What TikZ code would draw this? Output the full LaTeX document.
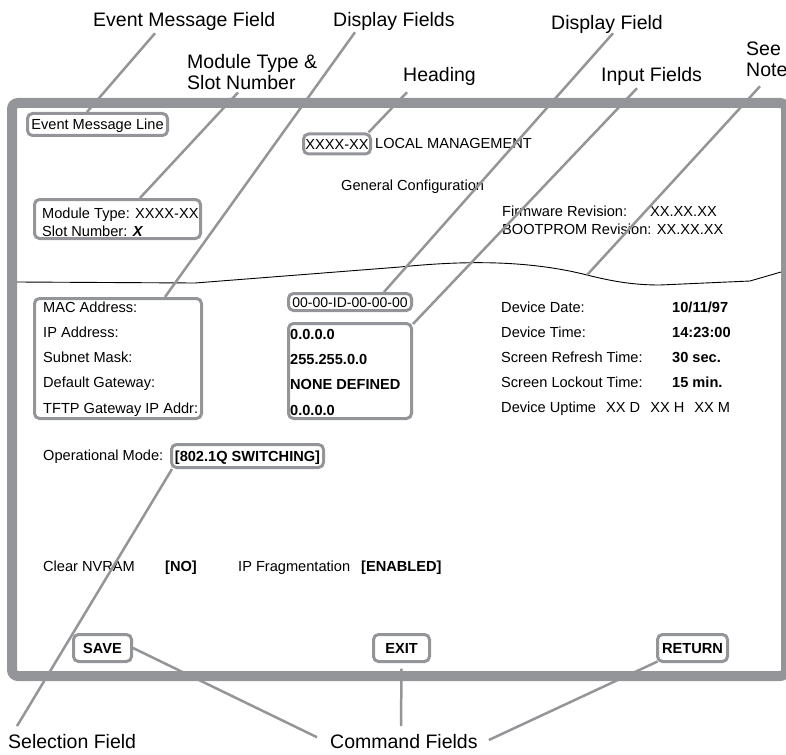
\documentclass[tikz,border=0pt]{standalone}
\usepackage{fontspec}
\setmainfont{Liberation Sans}
\usetikzlibrary{calc}
\definecolor{boxgray}{RGB}{147,149,152}
\newcommand{\screenfont}{\fontsize{14.6}{17}\selectfont}
\newcommand{\calloutfont}{\fontsize{19.5}{21.5}\selectfont}

\begin{document}
\begin{tikzpicture}[
  x=1pt, y=-1pt,
  field/.style={draw=boxgray, line width=3pt, rounded corners=5pt, font=\screenfont,
    inner sep=0pt, text height=10.5pt, text depth=0pt},
  cmd/.style={field, font=\screenfont\bfseries, minimum height=27pt},
  txt/.style={font=\screenfont, inner sep=0pt, anchor=base west},
  val/.style={txt, font=\screenfont\bfseries},
  callout/.style={font=\calloutfont, inner sep=0pt, anchor=base west},
  leader/.style={draw=boxgray, line width=2.5pt},
  screenframe/.style={draw=boxgray, line width=10pt, rounded corners=6pt}
]
\useasboundingbox (0,0) rectangle (786,754);

% Screen outline and tear line
\draw[screenframe] (12,103) rectangle (786,676);
\draw[line width=0.9pt] (17,282) -- (195,283) -- (400,267)
  .. controls (450,262) and (520,258) .. (587,275)
  .. controls (615,282) and (635,285) .. (660,285) -- (750,281) -- (781,272);
\coordinate (notept) at (587,275);

% Top of screen
\node[field, minimum width=140pt, minimum height=22pt] (evline) at (97.5,124.5) {Event Message Line};
\node[field, minimum width=67pt, minimum height=20pt] (headbox) at (337,144) {XXXX-XX};
\node[txt] (localmgmt) at (375,149) {LOCAL MANAGEMENT};
\node[txt] (genconf) at (341,190) {General Configuration};
\node[field, minimum width=166pt, minimum height=39pt] (modbox) at (117.5,219) {};
\node[txt] (modtype) at (42,218) {Module Type: XXXX-XX};
\node[txt] (slotnum) at (42,236) {Slot Number: \textbf{\textit{X}}};
\node[txt] (fwlbl) at (502,216) {Firmware Revision:};
\node[txt] (fwval) at (650,216) {XX.XX.XX};
\node[txt] (bootlbl) at (502,234) {BOOTPROM Revision: XX.XX.XX};

% Display fields
\node[field, minimum width=167pt, minimum height=120pt] (macbox) at (118,358.5) {};
\node[txt] (maclbl) at (43,312) {MAC Address:};
\node[txt] (iplbl) at (43,337) {IP Address:};
\node[txt] (masklbl) at (43,362) {Subnet Mask:};
\node[txt] (gwlbl) at (43,387) {Default Gateway:};
\node[txt] (tftplbl) at (43,413) {TFTP Gateway IP Addr:};

% Input fields
\node[field, font=\fontsize{14}{16}\selectfont, minimum width=123pt, minimum height=17pt] (macval) at (350,302) {00-00-ID-00-00-00};
\node[field, minimum width=123pt, minimum height=95pt] (inbox) at (350,371) {};
\node[val] (ipval) at (290,339) {0.0.0.0};
\node[val] (maskval) at (290,364) {255.255.0.0};
\node[val] (gwval) at (290,389) {NONE DEFINED};
\node[val] (tftpval) at (290,415) {0.0.0.0};

% Device status
\node[txt] (datelbl) at (501,312) {Device Date:};
\node[txt] (timelbl) at (501,337) {Device Time:};
\node[txt] (refrlbl) at (501,362) {Screen Refresh Time:};
\node[txt] (locklbl) at (501,387) {Screen Lockout Time:};
\node[txt] (uptime) at (501,412) {Device Uptime\hspace{6pt} XX D\hspace{6pt} XX H\hspace{6pt} XX M};
\node[val] (dateval) at (672,312) {10/11/97};
\node[val] (timeval) at (672,337) {14:23:00};
\node[val] (refrval) at (672,362) {30 sec.};
\node[val] (lockval) at (672,387) {15 min.};

% Selections
\node[txt] (opmode) at (43,460) {Operational Mode:};
\node[field, font=\screenfont\bfseries, minimum width=152pt, minimum height=23pt] (opbox) at (247.5,456) {[802.1Q SWITCHING]};
\node[txt] (nvram) at (43,571) {Clear NVRAM};
\node[val] (nvramval) at (165,571) {[NO]};
\node[txt] (ipfrag) at (238,571) {IP Fragmentation};
\node[val] (ipfragval) at (361,571) {[ENABLED]};

% Commands
\node[cmd, minimum width=58pt] (savebox) at (102.5,648) {SAVE};
\node[cmd, minimum width=56pt] (exitbox) at (401.5,648) {EXIT};
\node[cmd, minimum width=70pt] (retbox) at (692.5,648) {RETURN};

% Callouts
\node[callout] (evfield) at (93,27) {Event Message Field};
\node[callout] (dispfields) at (333,27) {Display Fields};
\node[callout] (dispfield) at (551,30) {Display Field};
\node[callout, anchor=north west, align=left] (modlbl) at (187,53.8) {Module Type \&\\Slot Number};
\node[callout] (heading) at (403,82) {Heading};
\node[callout] (inputs) at (601,82) {Input Fields};
\node[callout, anchor=north west, align=left] (seenote) at (746,41.6) {See\\Note};
\node[callout] (selfield) at (8,748) {Selection Field};
\node[callout] (cmdfields) at (330,748) {Command Fields};

% Leaders
\draw[leader] ($(evfield.south west)+(62,2)$) -- ($(evline.north)+(-10.5,0)$);
\draw[leader] ($(modlbl.south west)+(51,2.5)$) -- ($(modbox.north)+(22.5,0)$);
\draw[leader] ($(dispfields.south west)+(22,1)$) -- ($(macbox.north)+(47,0)$);
\draw[leader] ($(heading.south west)+(4,6)$) -- ($(headbox.north east)+(-3.5,0)$);
\draw[leader] ($(dispfield.south west)+(62,-1)$) -- ($(macval.north)+(34,0)$);
\draw[leader] ($(inputs.south west)+(36,2)$) -- ($(inbox.north east)+(0,2)$);
\draw[leader] ($(seenote.south west)+(14,9)$) -- (notept);
\draw[leader] ($(opbox.south west)+(2,0)$) -- ($(selfield.north west)+(9,-7.6)$);
\draw[leader] (savebox.east) -- ($(cmdfields.west)+(-13,-3.8)$);
\draw[leader] ($(exitbox.south)+(0,5.5)$) -- ($(cmdfields.north west)+(71,-7.6)$);
\draw[leader] ($(retbox.south west)+(1.5,-1.5)$) -- ($(cmdfields.east)+(11,-1)$);

\end{tikzpicture}
\end{document}
